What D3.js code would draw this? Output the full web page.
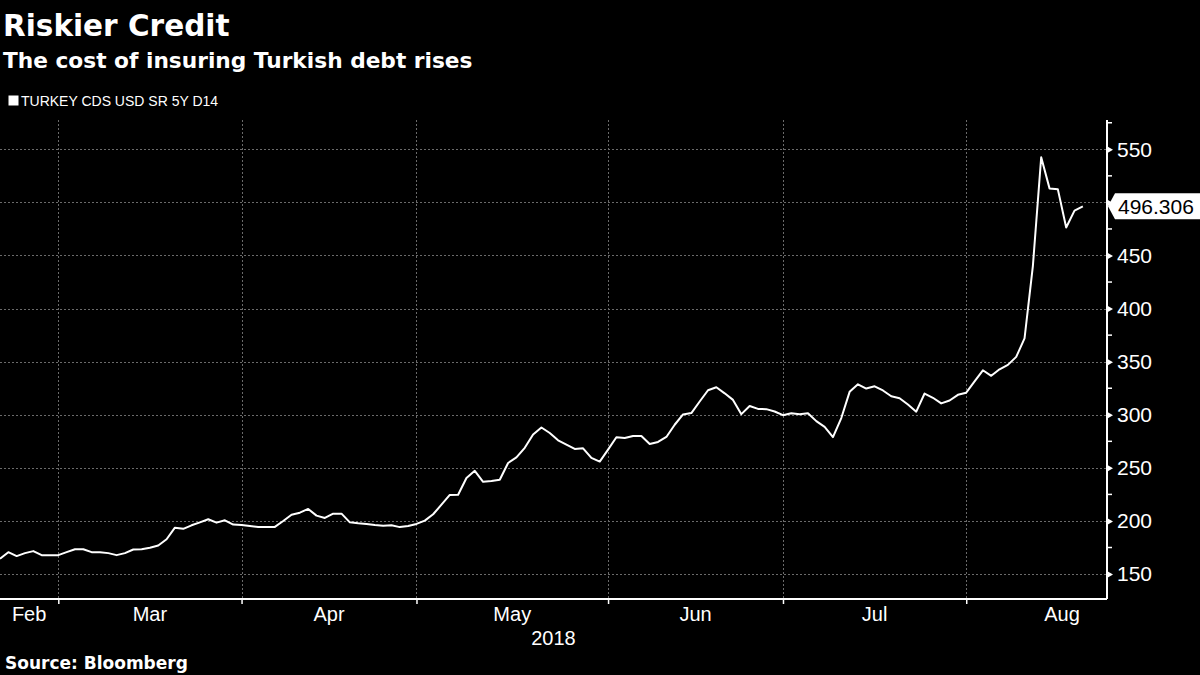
<!DOCTYPE html>
<html><head><meta charset="utf-8">
<script src="https://cdn.jsdelivr.net/npm/d3@7"></script>
<style>html,body{margin:0;padding:0;background:#000;} svg{display:block;}</style>
</head><body>
<svg id="chart" width="1200" height="675"></svg>
<script>
// ---- data ----
const title = "Riskier Credit";
const subtitle = "The cost of insuring Turkish debt rises";
const seriesName = "TURKEY CDS USD SR 5Y D14";
const source = "Source: Bloomberg";
const startDate = "2018-02-20"; // first trading day shown (one point per weekday)
const cdsValues = [
  164.4,170.6,166.9,169.7,171.6,167.8,167.8,167.8,170.6,173.4,
  173.4,170.6,170.6,169.7,167.8,169.7,173.1,173.4,174.7,176.9,
  182.8,193.7,192.6,195.9,198.7,201.6,198.4,200.6,196.6,196.2,
  195.3,194.4,194.4,194.4,200.0,205.9,207.8,211.3,205.0,202.8,
  206.9,206.9,198.7,197.8,197.2,196.2,195.5,195.9,194.2,195.2,
  197.2,200.3,206.3,215.3,224.5,224.7,240.5,247.2,236.9,237.6,
  238.8,254.6,259.8,268.9,281.5,288.0,282.8,275.9,271.9,267.8,
  268.4,259.4,255.9,267.2,278.8,278.1,280.0,280.0,272.5,274.4,
  279.1,290.6,300.3,301.6,312.5,323.1,325.9,320.2,314.0,300.6,
  308.3,305.5,305.3,303.1,299.6,301.5,300.6,301.5,294.0,288.6,
  279.0,296.9,321.6,328.7,324.7,326.8,322.9,317.4,315.5,309.7,
  302.9,320.0,316.0,310.7,313.4,318.8,320.8,331.4,341.9,336.7,
  342.8,347.0,354.5,372.0,440.0,542.5,513.2,512.3,476.4,492.3,
  496.306
];
const monthTickIdx = [7, 29, 50, 73, 94, 116];      // first trading day of Mar..Aug
const monthLabels = ["Feb","Mar","Apr","May","Jun","Jul","Aug"];
const monthLabelIdx = [3.5, 18, 39.5, 61.5, 83.5, 105, 127.5];
const yearLabel = "2018";
const yTicks = [150, 200, 250, 300, 350, 400, 450, 500, 550];
const yMinorTicks = [175, 225, 275, 325, 375, 425, 475, 525, 575];
const lastValueLabel = "496.306";

// ---- layout ----
const W = 1200, H = 675;
const plot = {left: 0, right: 1107, top: 120, bottom: 599};
const svg = d3.select("#chart");
svg.append("rect").attr("width", W).attr("height", H).attr("fill", "#000");

const x = d3.scaleLinear().domain([0, 132.9]).range([plot.left, plot.right]);
const y = d3.scaleLinear().domain([126.5, 577.6]).range([plot.bottom, plot.top]);

// titles
svg.append("text").attr("x", 3).attr("y", 36).text(title)
  .attr("fill", "#fff").attr("font-family", "DejaVu Sans").attr("font-weight", "bold").attr("font-size", 29.5);
svg.append("text").attr("x", 3).attr("y", 68).text(subtitle)
  .attr("fill", "#fff").attr("font-family", "DejaVu Sans").attr("font-weight", "bold").attr("font-size", 21.7);
svg.append("rect").attr("x", 8.5).attr("y", 95.5).attr("width", 10).attr("height", 10).attr("fill", "#fff");
svg.append("text").attr("x", 21).attr("y", 106).text(seriesName)
  .attr("fill", "#fff").attr("font-family", "Liberation Sans").attr("font-size", 14);
svg.append("text").attr("x", 5).attr("y", 669).text(source)
  .attr("fill", "#fff").attr("font-family", "DejaVu Sans").attr("font-weight", "bold").attr("font-size", 17);

// gridlines
const grid = svg.append("g").attr("stroke", "#6a6a6a").attr("stroke-width", 1).attr("stroke-dasharray", "2,2");
grid.selectAll("line.h").data(yTicks).join("line")
  .attr("x1", plot.left).attr("x2", plot.right)
  .attr("y1", d => Math.round(y(d)) + 0.5).attr("y2", d => Math.round(y(d)) + 0.5);
grid.selectAll("line.v").data(monthTickIdx).join("line")
  .attr("x1", d => Math.round(x(d)) + 0.5).attr("x2", d => Math.round(x(d)) + 0.5)
  .attr("y1", plot.top).attr("y2", plot.bottom);

// x axis
const xAxis = d3.axisBottom(x).tickValues(monthTickIdx).tickSize(5).tickFormat("");
const gx = svg.append("g").attr("transform", `translate(0,${plot.bottom})`).call(xAxis);
gx.select(".domain").attr("stroke", "#fff").attr("stroke-width", 2).attr("d", `M${plot.left},0H${plot.right}`);
gx.selectAll(".tick line").attr("stroke", "#fff").attr("stroke-width", 1.5);
svg.append("g").selectAll("text").data(monthLabels).join("text")
  .attr("x", (d, i) => x(monthLabelIdx[i])).attr("y", 621)
  .attr("text-anchor", "middle").text(d => d)
  .attr("fill", "#fff").attr("font-family", "Liberation Sans").attr("font-size", 20);
svg.append("text").attr("x", (plot.left + plot.right) / 2).attr("y", 645)
  .attr("text-anchor", "middle").text(yearLabel)
  .attr("fill", "#fff").attr("font-family", "Liberation Sans").attr("font-size", 20);

// y axis
const lv = cdsValues[cdsValues.length - 1];
const ly = y(lv);
const yAxis = d3.axisRight(y).tickValues(yTicks).tickSize(0).tickPadding(10);
const gy = svg.append("g").attr("transform", `translate(${plot.right},0)`).call(yAxis);
gy.select(".domain").attr("stroke", "#fff").attr("stroke-width", 2).attr("d", `M0,${plot.top}V${plot.bottom}`);
gy.selectAll(".tick text").attr("fill", "#fff").attr("font-family", "Liberation Sans").attr("font-size", 21);
// the tick label hidden under the last-value flag is not shown
gy.selectAll(".tick text").filter(d => Math.abs(y(d) - ly) < 20).remove();
gy.selectAll(".tick").append("path").attr("d", "M0,-3.5L6,0L0,3.5Z").attr("fill", "#fff");
gy.selectAll("line.minor").data(yMinorTicks).join("line")
  .attr("x1", 0).attr("x2", 5).attr("y1", d => y(d)).attr("y2", d => y(d))
  .attr("stroke", "#fff").attr("stroke-width", 1.5);

// line
const line = d3.line().x((d, i) => x(i)).y(d => y(d));
svg.append("path").datum(cdsValues).attr("d", line)
  .attr("fill", "none").attr("stroke", "#fff").attr("stroke-width", 2).attr("stroke-linejoin", "round");

// last value label
const lab = svg.append("g").attr("transform", `translate(${plot.right + 1},${ly})`);
lab.append("path").attr("d", "M0,0L7,-13H93V13H7Z").attr("fill", "#fff");
lab.append("text").attr("x", 10).attr("y", 7.5).text(lastValueLabel)
  .attr("fill", "#000").attr("font-family", "Liberation Sans").attr("font-size", 21);
</script>
</body></html>
